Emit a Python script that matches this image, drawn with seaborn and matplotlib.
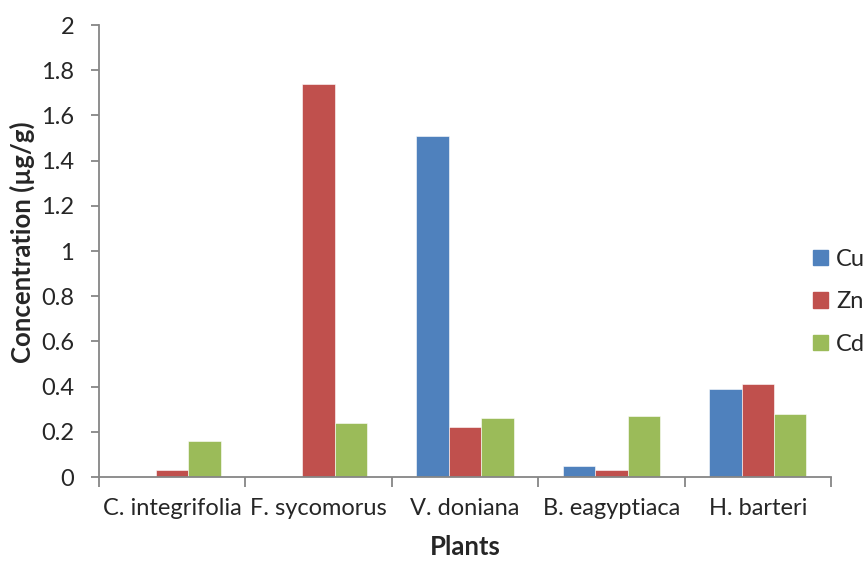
import matplotlib
matplotlib.use("Agg")
import matplotlib.pyplot as plt
import seaborn as sns
import pandas as pd

# dados
plantas = ["C. integrifolia", "F. sycomorus", "V. doniana", "B. eagyptiaca", "H. barteri"]
metais = ["Cu", "Zn", "Cd"]
cu = [0.0, 0.0, 1.51, 0.05, 0.39]
zn = [0.03, 1.74, 0.22, 0.03, 0.41]
cd = [0.16, 0.24, 0.26, 0.27, 0.28]
cores = ["#4F81BD", "#C0504D", "#9BBB59"]

df = pd.DataFrame({
    "Planta": plantas * 3,
    "Metal": ["Cu"] * 5 + ["Zn"] * 5 + ["Cd"] * 5,
    "Conc": cu + zn + cd,
})

sns.set_style("white")
plt.rcParams["font.family"] = ["Lato", "DejaVu Sans"]

fig = plt.figure(figsize=(8.64, 5.61), dpi=100)
ax = fig.add_axes([0.1146, 0.1497, 0.9618 - 0.1146, 0.9554 - 0.1497])

sns.barplot(data=df, x="Planta", y="Conc", hue="Metal", hue_order=metais,
            order=plantas, palette=cores, width=0.665, ax=ax,
            edgecolor="white", linewidth=0.4, saturation=1)

ax.set_ylim(0, 2)
ax.set_xlim(-0.5, 4.5)
ax.set_yticks([0, 0.2, 0.4, 0.6, 0.8, 1, 1.2, 1.4, 1.6, 1.8, 2])
ax.set_yticklabels(["0", "0.2", "0.4", "0.6", "0.8", "1", "1.2", "1.4", "1.6", "1.8", "2"])
ax.tick_params(axis="y", labelsize=17, length=6, width=1.3, color="#868686",
               direction="out", left=True, pad=12)

# ticks entre as categorias, rótulos no centro
ax.set_xticks([-0.5, 0.5, 1.5, 2.5, 3.5, 4.5])
ax.set_xticklabels([])
ax.set_xticks(range(5), minor=True)
ax.set_xticklabels(plantas, minor=True)
ax.tick_params(axis="x", which="major", length=7, width=1.3, color="#868686",
               direction="out", bottom=True)
ax.tick_params(axis="x", which="minor", length=0, labelsize=17, pad=15)

for s in ["top", "right"]:
    ax.spines[s].set_visible(False)
for s in ["left", "bottom"]:
    ax.spines[s].set_color("#868686")
    ax.spines[s].set_linewidth(1.3)

ax.set_xlabel("Plants", fontsize=18.5, fontweight="bold")
ax.set_ylabel("Concentration (µg/g)", fontsize=18.5, fontweight="bold")
ax.xaxis.set_label_coords(0.5, -0.128)
ax.yaxis.set_label_coords(-0.087, 0.52)

ax.legend_.remove()
handles = [plt.Rectangle((0, 0), 1, 1, color=c) for c in cores]
fig.legend(handles, metais, loc="center left", bbox_to_anchor=(0.941, 0.462),
           frameon=False, fontsize=17, handlelength=0.63, handleheight=0.63,
           labelspacing=0.9, handletextpad=0.35, borderaxespad=0, borderpad=0)

fig.savefig("out.png", dpi=100)
